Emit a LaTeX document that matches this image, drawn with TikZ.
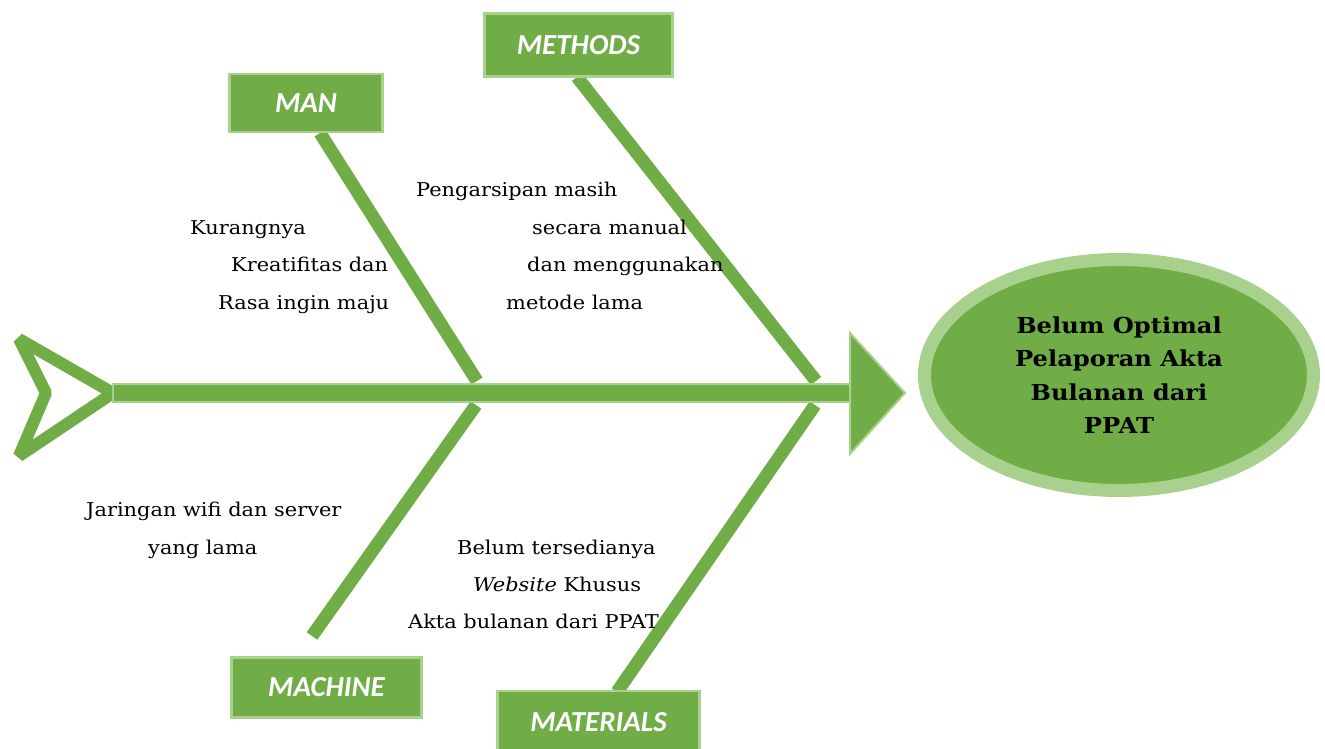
\documentclass[tikz,border=0pt]{standalone}
\usepackage{fontspec}
\setmainfont{DejaVu Serif}[FakeStretch=1.1]
\newfontfamily\boxfont{Carlito}
\usetikzlibrary{positioning,shapes.geometric}
\definecolor{leaf}{HTML}{70AD47}
\definecolor{paleleaf}{HTML}{A9D18E}
\tikzset{
  catbox/.style={draw=paleleaf, line width=2.5pt, fill=leaf, text=white,
    font=\boxfont\bfseries\itshape\fontsize{29}{32}\selectfont, inner sep=0pt},
  bone/.style={leaf, line width=13pt},
  cause/.style={anchor=base west, inner sep=0pt, font=\fontsize{19}{22}\selectfont},
}
\begin{document}
\begin{tikzpicture}[x=1pt,y=-1pt]
        \useasboundingbox (0,0) rectangle (1325,749);
        % spine ends and bone ends
        \coordinate (tail) at (113,393);
        \coordinate (head) at (850,393);
        \coordinate (manTop) at (320,133);
        \coordinate (manEnd) at (477,381);
        \coordinate (methTop) at (577,77);
        \coordinate (methEnd) at (816,381);
        \coordinate (machEnd) at (476,405);
        \coordinate (machBot) at (312,636);
        \coordinate (matEnd) at (815,405);
        \coordinate (matBot) at (617,692);
        % bones
        \draw[bone] (manTop)--(manEnd);
        \draw[bone] (methTop)--(methEnd);
        \draw[bone] (machEnd)--(machBot);
        \draw[bone] (matEnd)--(matBot);
        % tail and spine
        \draw[leaf, line width=12pt, line join=bevel] (19,339)--(tail)--(19,456)--(46,393)--cycle;
        \filldraw[fill=leaf, draw=paleleaf, line width=2pt] (113,384) rectangle (852,402);
        \filldraw[fill=leaf, draw=paleleaf, line width=2pt] (head |- 0,333)--(905,393)--(head |- 0,454)--cycle;
        % categories
        \node[catbox, minimum width=153pt, minimum height=58pt] (man) at (306,103) {MAN};
        \node[catbox, minimum width=188pt, minimum height=63pt] (methods) at (578.5,45) {METHODS};
        \node[catbox, minimum width=190pt, minimum height=60pt] (machine) at (326.5,687.5) {MACHINE};
        \node[catbox, minimum width=202pt, minimum height=62pt] (materials) at (598.5,722) {MATERIALS};
        % effect
        \node[ellipse, draw=paleleaf, line width=13pt, fill=leaf, minimum width=389pt, minimum height=231pt,
              align=center, font=\bfseries\fontsize{22}{33.5}\selectfont] (effect) at (1119,375)
              {Belum Optimal\\Pelaporan Akta\\Bulanan dari\\PPAT};
        % causes
        \node[cause] (k1) at (190,234) {Kurangnya};
        \node[cause] (k2) at (231,271) {Kreatifitas dan};
        \node[cause] (k3) at (218,309) {Rasa ingin maju};
        \node[cause] (p1) at (416,196) {Pengarsipan masih};
        \node[cause] (p2) at (532,234) {secara manual};
        \node[cause] (p3) at (527,271) {dan menggunakan};
        \node[cause] (p4) at (506,309) {metode lama};
        \node[cause] (j1) at (86,516) {Jaringan wifi dan server};
        \node[cause] (j2) at (148,554) {yang lama};
        \node[cause] (b1) at (457,554) {Belum tersedianya};
        \node[cause] (b2) at (473,591) {\textit{Website} Khusus};
        \node[cause] (b3) at (408,628) {Akta bulanan dari PPAT};
    \end{tikzpicture}
\end{document}
